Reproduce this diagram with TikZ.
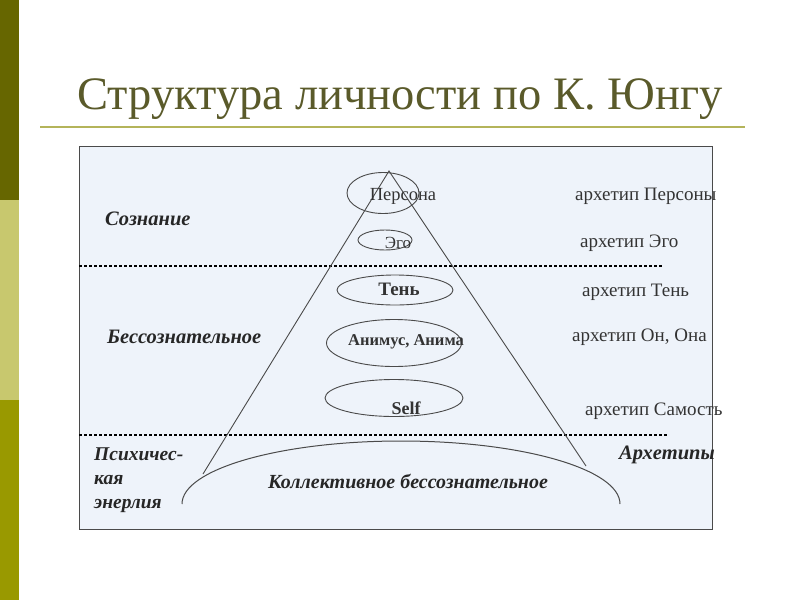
\documentclass[tikz,border=0pt]{standalone}
\usepackage{fontspec}
\setmainfont{Liberation Serif}
\usetikzlibrary{shapes.geometric}
\definecolor{stripeA}{HTML}{666600}
\definecolor{stripeB}{HTML}{C8C86E}
\definecolor{stripeC}{HTML}{999900}
\definecolor{titleol}{HTML}{5A5A2A}
\definecolor{ruleol}{HTML}{B4B45A}
\definecolor{panel}{HTML}{EEF3FA}
\definecolor{ink}{HTML}{333333}
\definecolor{lgray}{HTML}{4A4A4A}
\newcommand{\fs}[1]{\fontsize{#1}{#1}\selectfont}

\begin{document}
\begin{tikzpicture}[x=1pt, y=-1pt,
    oval/.style={draw=lgray, line width=0.9pt, ellipse, inner sep=0pt},
    word/.style={inner sep=0pt, text=ink},
    zone/.style={inner sep=0pt, anchor=west, font=\bfseries\itshape\fs{20.5}, text=black!85},
    arch/.style={inner sep=0pt, anchor=west, font=\fs{19}, text=ink},
    sep/.style={line width=1.1pt, dash pattern=on 3pt off 2pt}]
    \useasboundingbox (0,0) rectangle (800,600);
    \fill[white] (0,0) rectangle (800,600);

    % side stripes
    \fill[stripeA] (0,0) rectangle (19,200);
    \fill[stripeB] (0,200) rectangle (19,400);
    \fill[stripeC] (0,400) rectangle (19,600);

    % title
    \node[inner sep=0pt, text=titleol, font=\fs{46.5}] (title) at (400,99) {Структура личности по К. Юнгу};
    \draw[ruleol, line width=2pt] (40,127) -- (745,127);

    % panel
    \filldraw[fill=panel, draw=lgray, line width=1pt] (79,146) rectangle (712,529);
    \draw[sep] (79,266) -- (662,266);
    \draw[sep] (79,435) -- (668,435);

    % pyramid
    \coordinate (apex) at (389,171);
    \coordinate (baseL) at (203,474);
    \coordinate (baseR) at (586,466);
    \draw[lgray, line width=0.9pt] (baseL) -- (apex) -- (baseR);

    % ovals
    \node[oval, minimum width=72, minimum height=41] (persona) at (383,193) {};
    \node[oval, minimum width=54, minimum height=20] (ego) at (385,240) {};
    \node[oval, minimum width=116, minimum height=30] (shadow) at (395,290) {};
    \node[oval, minimum width=135, minimum height=47] (anima) at (394,343) {};
    \node[oval, minimum width=138, minimum height=37] (self) at (394,398) {};

    \node[word, font=\fs{18.5}] (personaT) at (403,196) {Персона};
    \node[word, font=\fs{17}] (egoT) at (398,243) {Эго};
    \node[word, font=\bfseries\fs{19}] (shadowT) at (399,289) {Тень};
    \node[word, font=\bfseries\fs{16.5}] (animaT) at (406,342) {Анимус, Анима};
    \node[word, font=\bfseries\fs{18}] (selfT) at (406,408) {Self};

    % collective unconscious
    \coordinate (kbL) at (182,504);
    \draw[lgray, line width=1pt] (kbL) arc[start angle=180, end angle=360, x radius=219, y radius=63];
    \node[word, font=\bfseries\itshape\fs{20}, text=black!85] (kb) at (408,481) {Коллективное бессознательное};

    % left zones
    \node[zone] (cons) at (105,219) {Сознание};
    \node[zone] (uncons) at (107,337) {Бессознательное};
    \node[zone, align=left, font=\bfseries\itshape\fontsize{19.5}{24}\selectfont] (energy) at (94,480) {Психичес-\\кая\\энерлия};
    \node[zone] (archs) at (619,455) {Архетипы};

    % right labels
    \node[arch] (aPersona) at (575,196) {архетип Персоны};
    \node[arch] (aEgo) at (580,243) {архетип Эго};
    \node[arch] (aShadow) at (582,292) {архетип Тень};
    \node[arch] (aAnima) at (572,337) {архетип Он, Она};
    \node[arch] (aSelf) at (585,411) {архетип Самость};
\end{tikzpicture}
\end{document}
